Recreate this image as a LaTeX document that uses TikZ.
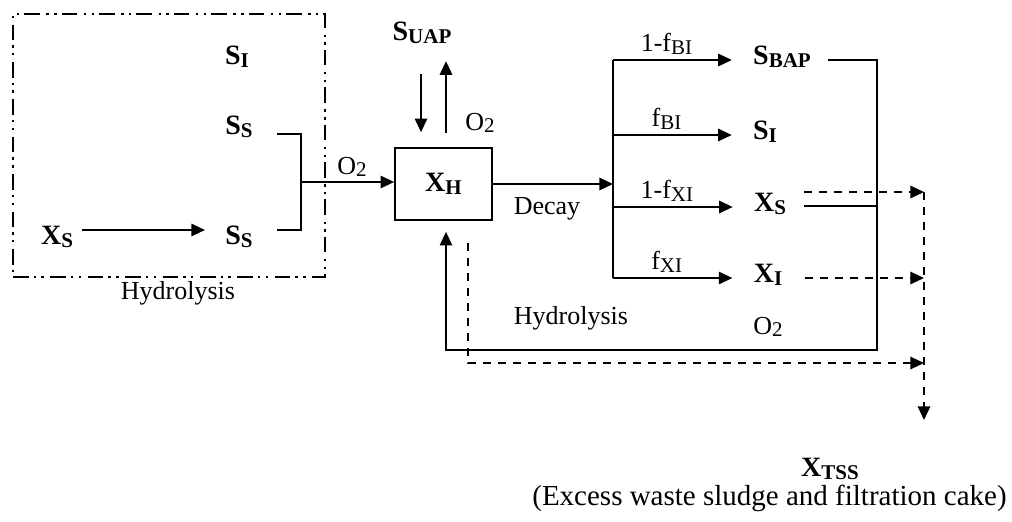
\documentclass[tikz,border=0pt]{standalone}
\usepackage{fontspec}
\setmainfont{Liberation Serif}
\usetikzlibrary{arrows.meta, positioning}
\newcommand{\lowsub}[1]{\raisebox{-1.3pt}{\fontsize{10.5}{11}\selectfont #1}}

\begin{document}
\begin{tikzpicture}[x=0.5pt, y=-0.5pt, font=\fontsize{13}{15}\selectfont,
  sp/.style={font=\bfseries\fontsize{14}{16}\selectfont, inner sep=0pt},
  lbl/.style={inner sep=0pt},
  ln/.style={line width=0.85pt},
  arr/.style={-{Triangle[length=6.8pt,width=6.2pt]}, line width=0.85pt},
  darr/.style={arr, dash pattern=on 4pt off 3.5pt},
  hbox/.style={draw, line width=0.85pt, minimum width=156pt, minimum height=131.5pt,
    dash pattern=on 7.8pt off 2.5pt on 1.2pt off 2.7pt on 1.2pt off 3.3pt},
  reactor/.style={draw, line width=0.85pt, minimum width=48.5pt, minimum height=36pt}]
  \useasboundingbox (0,0) rectangle (1012,521);
  % hydrolysis block
  \node[hbox] (hyd) at (169,145.5) {};
  \node[lbl] (hydlbl) at (178,293) {Hydrolysis};
  \node[sp] (siA) at (237,57) {S\lowsub{I}};
  \node[sp] (ssA) at (239,127) {S\lowsub{S}};
  \node[sp] (ssB) at (239,237) {S\lowsub{S}};
  \node[sp] (xsA) at (57,237) {X\lowsub{S}};
  \draw[arr] ([xshift=4.5pt,yshift=3.5pt]xsA.east) -- ([xshift=-10pt,yshift=3.5pt]ssB.west);
  \coordinate (jn) at (301,182);
  \draw[ln] ([xshift=12pt,yshift=-3.5pt]ssA.east) -| (jn) |- ([xshift=12pt,yshift=3.5pt]ssB.east);
  % heterotrophs
  \node[reactor, font=\bfseries\fontsize{14}{16}\selectfont] (xh) at (443.5,184) {X\lowsub{H}};
  \node[sp] (suap) at (422,33) {S\lowsub{UAP}};
  \node[lbl] (o2a) at (352,167) {O\lowsub{2}};
  \node[lbl] (o2b) at (480,123) {O\lowsub{2}};
  \draw[arr] (jn) -- (jn -| xh.west);
  \draw[arr] ([xshift=-11.25pt,yshift=36.5pt]xh.north) -- ([xshift=-11.25pt,yshift=7.5pt]xh.north);
  \draw[arr] ([xshift=1.25pt,yshift=7pt]xh.north) -- ([xshift=1.25pt,yshift=43pt]xh.north);
  % decay products
  \node[lbl] (decay) at (547,209) {Decay};
  \coordinate (dj) at (613,184);
  \draw[arr] (xh.east) -- (dj);
  \node[sp] (sbap) at (782,57) {S\lowsub{BAP}};
  \node[sp] (siB) at (765,132) {S\lowsub{I}};
  \node[sp] (xsB) at (770,204) {X\lowsub{S}};
  \node[sp] (xiB) at (768,275) {X\lowsub{I}};
  \foreach \n/\t in {sbap/{1-f\lowsub{BI}}, siB/{f\lowsub{BI}}, xsB/{1-f\lowsub{XI}}, xiB/{f\lowsub{XI}}} {
    \coordinate (\n-in) at ([xshift=-10.5pt,yshift=-1.5pt]\n.west);
    \draw[arr] (dj |- \n-in) -- node[lbl, pos=0.45, above=2.3pt] {\t} (\n-in);
  }
  \draw[ln] (dj |- sbap-in) -- (dj |- xiB-in);
  % return to biomass
  \node[lbl] (hydB) at (571,318) {Hydrolysis};
  \node[lbl] (o2c) at (768,327) {O\lowsub{2}};
  \coordinate (rc) at (877,350);
  \draw[arr] ([xshift=8.5pt,yshift=-1.5pt]sbap.east) -| (rc) -| ([xshift=1.25pt,yshift=-5.5pt]xh.south);
  \draw[ln] ([xshift=9pt,yshift=-1pt]xsB.east) coordinate (xsout) -- (xsout -| rc);
  % sludge removal
  \coordinate (vd) at (924,420);
  \coordinate (db) at (924,363);
  \draw[darr] ([xshift=9pt,yshift=6pt]xsB.east) coordinate (xsd) -- (xsd -| vd);
  \draw[darr] ([xshift=11pt,yshift=-1.5pt]xiB.east) coordinate (xid) -- (xid -| vd);
  \draw[darr] ([xshift=12.25pt,yshift=-11pt]xh.south) |- (db);
  \draw[darr] (xsd -| vd) -- (vd);
  \node[sp] (xtss) at (830,469) {X\lowsub{TSS}};
  \node[lbl, font=\fontsize{14.5}{16}\selectfont] (cake) at (769.5,498) {(Excess waste sludge and filtration cake)};
\end{tikzpicture}
\end{document}
